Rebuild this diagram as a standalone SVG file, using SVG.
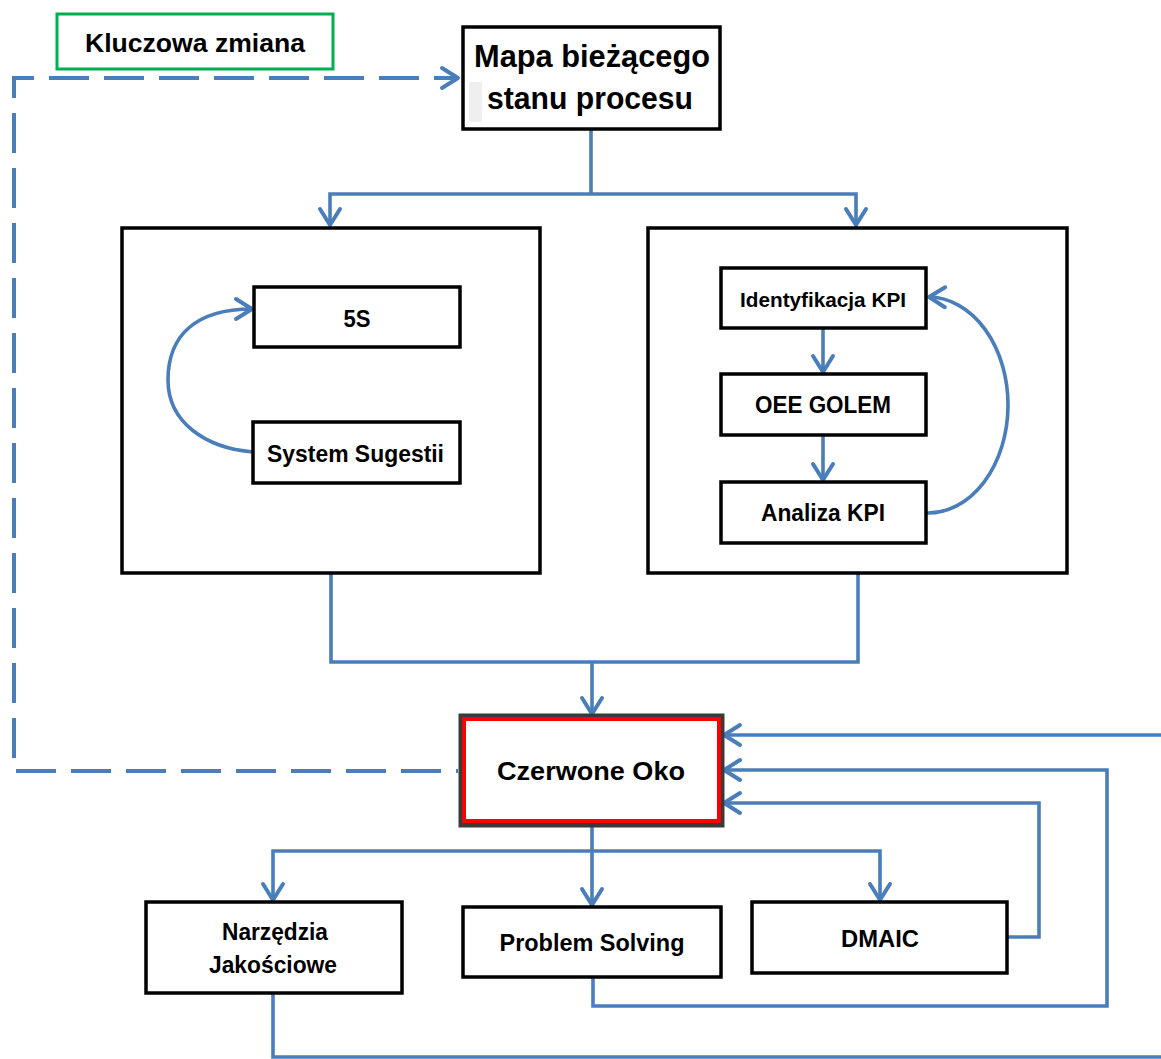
<svg xmlns="http://www.w3.org/2000/svg" width="1161" height="1059" viewBox="0 0 1161 1059">
  <style>
    .box { fill: #ffffff; stroke: #000000; stroke-width: 3.5; }
    .big { fill: none; stroke: #000000; stroke-width: 3.5; }
    .lbl { font-family: "Liberation Sans", Arial, sans-serif; font-weight: bold; fill: #000000; text-anchor: middle; }
    .conn { fill: none; stroke: #4A7EBB; stroke-width: 3.6; stroke-linejoin: miter; }
    .dash { fill: none; stroke: #4A7EBB; stroke-width: 4; stroke-dasharray: 40 15; stroke-dashoffset: 38; }
  </style>
  <defs>
    <marker id="arr" markerUnits="userSpaceOnUse" viewBox="-20 -14 24 28" markerWidth="24" markerHeight="28" refX="0" refY="0" orient="auto" overflow="visible">
      <path d="M-16,-10 L0,0 L-16,10" fill="none" stroke="#4A7EBB" stroke-width="4" stroke-linecap="round" stroke-linejoin="round"/>
    </marker>
  </defs>
  <rect width="1161" height="1059" fill="#ffffff"/>

  <g id="connectors">
    <path class="dash" d="M458,771 H14 V78 H458" marker-end="url(#arr)"/>
    <path class="conn" d="M591,130 V194"/>
    <path class="conn" d="M591,194 H330 V225" marker-end="url(#arr)"/>
    <path class="conn" d="M591,194 H856 V225" marker-end="url(#arr)"/>
    <path class="conn" d="M253,452 C205,448 168,422 168,380 C168,336 195,309 252,309" marker-end="url(#arr)"/>
    <path class="conn" d="M823,328 V372" marker-end="url(#arr)"/>
    <path class="conn" d="M823,435 V480" marker-end="url(#arr)"/>
    <path class="conn" d="M927,513 A80,108 0 0 0 929,297" marker-end="url(#arr)"/>
    <path class="conn" d="M331,573 V662 H858 V573"/>
    <path class="conn" d="M592,662 V714" marker-end="url(#arr)"/>
    <path class="conn" d="M592,826 V905" marker-end="url(#arr)"/>
    <path class="conn" d="M592,851 H273 V900" marker-end="url(#arr)"/>
    <path class="conn" d="M592,851 H880 V900" marker-end="url(#arr)"/>
    <path class="conn" d="M1007,937 H1039 V803 H724" marker-end="url(#arr)"/>
    <path class="conn" d="M593,977 V1006 H1107 V770 H724" marker-end="url(#arr)"/>
    <path class="conn" d="M273,993 V1057 H1175 V735 H724" marker-end="url(#arr)"/>
  </g>

  <g id="kluczowa-zmiana">
    <rect x="57" y="14" width="276" height="55" fill="#ffffff" stroke="#00B050" stroke-width="3"/>
    <text class="lbl" x="195" y="52" font-size="25" textLength="220" lengthAdjust="spacingAndGlyphs">Kluczowa zmiana</text>
  </g>

  <g id="mapa">
    <rect class="box" x="463" y="27" width="257" height="102"/>
    <rect x="469" y="82" width="13" height="40" fill="#efefef"/>
    <text class="lbl" x="592" y="67" font-size="31" textLength="236" lengthAdjust="spacingAndGlyphs">Mapa bieżącego</text>
    <text class="lbl" x="590" y="109" font-size="31" textLength="206" lengthAdjust="spacingAndGlyphs">stanu procesu</text>
  </g>

  <g id="grupa-lewa">
    <rect class="big" x="122" y="228" width="418" height="345"/>
  </g>
  <g id="grupa-prawa">
    <rect class="big" x="648" y="228" width="419" height="345"/>
  </g>

  <g id="n5s">
    <rect class="box" x="254" y="287" width="206" height="60"/>
    <text class="lbl" x="357" y="327" font-size="23" textLength="27" lengthAdjust="spacingAndGlyphs">5S</text>
  </g>
  <g id="system-sugestii">
    <rect class="box" x="253" y="422" width="207" height="61"/>
    <text class="lbl" x="355.5" y="462" font-size="23" textLength="177" lengthAdjust="spacingAndGlyphs">System Sugestii</text>
  </g>

  <g id="identyfikacja-kpi">
    <rect class="box" x="721" y="268" width="205" height="60"/>
    <text class="lbl" x="823" y="307" font-size="21" textLength="166" lengthAdjust="spacingAndGlyphs">Identyfikacja KPI</text>
  </g>
  <g id="oee-golem">
    <rect class="box" x="721" y="374" width="205" height="61"/>
    <text class="lbl" x="823" y="413" font-size="24" textLength="136" lengthAdjust="spacingAndGlyphs">OEE GOLEM</text>
  </g>
  <g id="analiza-kpi">
    <rect class="box" x="721" y="482" width="205" height="61"/>
    <text class="lbl" x="823" y="521" font-size="24" textLength="124" lengthAdjust="spacingAndGlyphs">Analiza KPI</text>
  </g>

  <g id="czerwone-oko">
    <rect x="461.5" y="716.5" width="260" height="108" fill="#ffffff" stroke="#3a3a3a" stroke-width="6"/>
    <rect x="464" y="719" width="255" height="102" fill="#ffffff" stroke="#FF0000" stroke-width="4"/>
    <text class="lbl" x="591" y="780" font-size="25" textLength="188" lengthAdjust="spacingAndGlyphs">Czerwone Oko</text>
  </g>

  <g id="narzedzia-jakosciowe">
    <rect class="box" x="146" y="902" width="256" height="91"/>
    <text class="lbl" x="275" y="940" font-size="23" textLength="106" lengthAdjust="spacingAndGlyphs">Narzędzia</text>
    <text class="lbl" x="273" y="973" font-size="23" textLength="128" lengthAdjust="spacingAndGlyphs">Jakościowe</text>
  </g>
  <g id="problem-solving">
    <rect class="box" x="463" y="907" width="258" height="70"/>
    <text class="lbl" x="592" y="951" font-size="23" textLength="185" lengthAdjust="spacingAndGlyphs">Problem Solving</text>
  </g>
  <g id="dmaic">
    <rect class="box" x="752" y="902" width="255" height="71"/>
    <text class="lbl" x="880" y="947" font-size="23" textLength="78" lengthAdjust="spacingAndGlyphs">DMAIC</text>
  </g>
</svg>
